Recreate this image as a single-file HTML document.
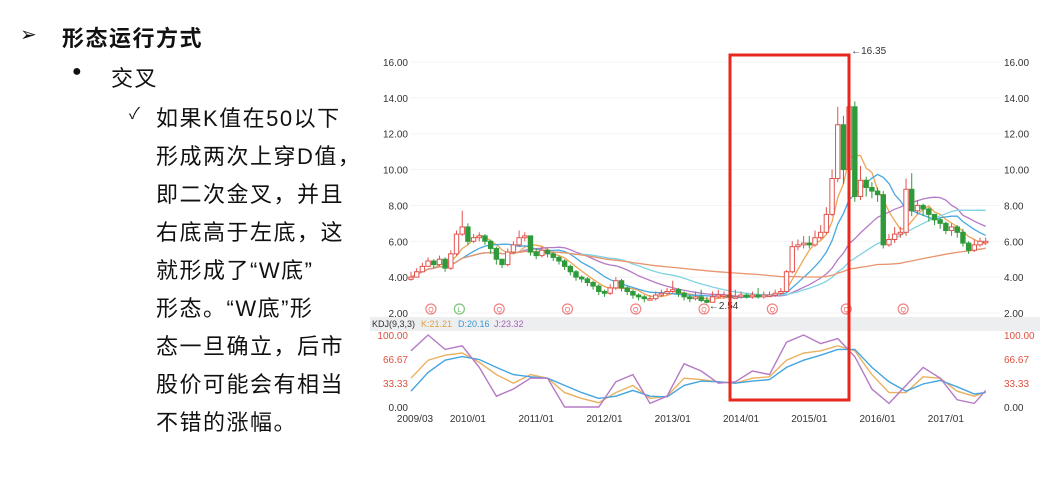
<!DOCTYPE html>
<html><head><meta charset="utf-8">
<style>
body{margin:0;width:1053px;height:486px;background:#fff;overflow:hidden;position:relative;font-family:"Liberation Sans","Noto Sans CJK SC",sans-serif;}
.t{position:absolute;color:#111;font-size:22px;letter-spacing:1.5px;white-space:nowrap;font-family:"Liberation Sans","Noto Sans CJK SC",sans-serif;}
svg{position:absolute;left:0;top:0}
</style></head><body>
<div class="t" style="left:20px;top:22px;font-size:20px">➢</div>
<div class="t" style="left:62px;top:21px;font-weight:bold">形态运行方式</div>
<div class="t" style="left:72px;top:63px;font-size:16px">●</div>
<div class="t" style="left:111px;top:61px">交叉</div>
<div class="t" style="left:129px;top:100px;font-size:16px">✓</div>
<div class="t" style="left:156px;top:100px;line-height:38px">如果K值在50以下<br>形成两次上穿D值，<br>即二次金叉，并且<br>右底高于左底，这<br>就形成了“W底”<br>形态。“W底”形<br>态一旦确立，后市<br>股价可能会有相当<br>不错的涨幅。</div>
<svg id="chart" width="1053" height="486"></svg>
<script>
const closes=[4.0,4.3,4.6,4.9,4.7,5.0,4.5,5.3,6.4,6.8,6.0,6.2,6.3,6.0,5.6,5.0,4.7,5.4,5.8,6.2,6.3,5.4,5.2,5.5,5.3,5.1,4.9,4.6,4.3,4.0,3.9,3.7,3.5,3.2,3.1,3.4,3.8,3.4,3.2,3.0,2.9,2.8,2.8,3.0,3.1,3.2,3.3,3.1,2.9,2.8,2.9,2.7,2.6,2.9,3.0,3.0,2.9,2.9,3.0,2.9,3.0,2.9,3.0,3.0,3.1,3.2,4.3,5.7,5.8,5.9,5.8,6.2,6.5,7.5,9.5,12.5,10.0,13.5,8.5,9.4,9.0,8.8,8.6,5.8,6.1,6.4,6.5,8.9,7.7,8.0,7.8,7.5,7.2,7.0,6.6,6.8,6.5,5.9,5.5,5.8,6.0,6.0];
const highs=[4.3,4.5,4.8,5.1,5.0,5.2,5.1,5.5,6.6,7.7,7.0,6.4,6.5,6.4,6.1,5.7,5.0,5.6,6.0,6.6,6.5,6.3,5.6,5.7,5.6,5.4,5.2,5.0,4.7,4.4,4.1,4.0,3.8,3.6,3.3,3.6,4.0,3.9,3.5,3.3,3.1,3.0,3.0,3.2,3.3,3.4,3.8,3.4,3.2,3.0,3.2,3.3,2.9,3.2,3.3,3.2,3.1,3.3,3.2,3.1,3.2,3.4,3.2,3.2,3.3,3.4,4.4,6.0,6.1,6.3,6.3,6.6,6.9,7.9,10.0,13.5,13.0,16.35,13.8,10.2,9.6,9.3,9.0,8.8,6.4,6.8,6.8,9.5,9.8,8.3,8.1,7.9,7.5,7.3,7.1,7.0,6.9,6.7,6.0,6.1,6.2,6.2];
const lows=[3.8,4.1,4.4,4.6,4.5,4.6,4.3,4.4,5.2,6.3,5.8,5.9,6.0,5.8,5.3,4.7,4.5,4.6,5.3,5.7,6.0,5.2,5.0,5.1,5.1,4.9,4.7,4.4,4.1,3.8,3.7,3.5,3.3,3.0,2.9,3.0,3.3,3.2,3.0,2.8,2.7,2.6,2.7,2.7,2.9,3.0,3.1,2.9,2.7,2.6,2.7,2.6,2.54,2.6,2.8,2.8,2.8,2.8,2.8,2.8,2.8,2.8,2.8,2.9,2.9,3.0,3.2,4.2,5.5,5.6,5.6,5.7,6.1,6.4,7.4,9.3,9.2,9.8,8.2,8.3,8.5,8.4,8.2,5.6,5.7,5.9,6.2,6.3,7.4,7.5,7.4,7.1,6.9,6.7,6.4,6.3,6.2,5.7,5.3,5.4,5.7,5.8];
const kdjMonths=[0,3,6,9,12,15,18,21,24,27,30,33,36,39,42,45,48,51,54,57,60,63,66,69,72,75,78,81,84,87,90,93,96,99,101];
const kVals=[40,65,72,75,62,45,33,45,40,20,12,6,20,30,12,15,40,38,35,33,40,42,65,75,78,85,78,45,20,20,42,40,22,15,21];
const dVals=[22,48,65,70,66,55,45,42,40,30,20,12,15,23,15,14,30,36,35,33,36,38,55,65,72,80,80,55,35,22,32,37,28,18,20];
const jVals=[78,100,80,85,55,15,25,40,40,0,0,0,35,45,5,15,60,50,33,35,50,45,90,100,88,95,70,25,5,30,55,40,10,5,23];
const priceTicks=[2,4,6,8,10,12,14,16];
const kdjTicks=[0,33.33,66.67,100];
const dateLabels=["2009/03","2010/01","2011/01","2012/01","2013/01","2014/01","2015/01","2016/01","2017/01"];
const dateMonths=[0,10,22,34,46,58,70,82,94];
const maWindows=[5,10,20,30,60];
const maColors=["#f0a455","#4aa8e0","#b57ac6","#7fd3e3","#e8956e"];
const qMonths=[3.5,8.5,15.5,27.5,39.5,51.5,63.5,76.5,86.5];
const qLetters=["Q","L","Q","Q","Q","Q","Q","Q","Q"];

const svg=document.getElementById('chart');const NS='http://www.w3.org/2000/svg';
const X=t=>411+5.69*t;const PY=p=>313-(p-2)*17.93;const KY=v=>407-0.72*v;
function mk(tag,attrs,parent){const e=document.createElementNS(NS,tag);for(const k in attrs)e.setAttribute(k,attrs[k]);(parent||svg).appendChild(e);return e;}
// grid
priceTicks.forEach(p=>{
 const g=mk('line',{x1:410,x2:1000,y1:PY(p),y2:PY(p),stroke:'#f3f3f3'});
 
 
 [[408,'end'],[1004,'start']].forEach(([x,a])=>{const t=mk('text',{x:x,y:PY(p)+4,'font-size':10,fill:'#333','text-anchor':a,'font-family':'Liberation Sans'});t.textContent=p.toFixed(2);
 
 });
});
// KDJ band
const band=mk('rect',{x:370,y:317,width:670,height:14,fill:'#eceef0'});


[["KDJ(9,3,3)",372,'#333'],["K:21.21",421,'#e0a040'],["D:20.16",458,'#3a9ad8'],["J:23.32",494,'#a860b8']].forEach(([s,x,c])=>{const t=mk('text',{x:x,y:327,'font-size':9,fill:c,'font-family':'Liberation Sans'});t.textContent=s;
 
 });
kdjTicks.forEach(v=>{[[408,'end'],[1004,'start']].forEach(([x,a])=>{const t=mk('text',{x:x,y:KY(v)+4,'font-size':10,fill:v==0?'#333':'#e05040','text-anchor':a,'font-family':'Liberation Sans'});t.textContent=v.toFixed(2);
 
 });});
dateLabels.forEach((s,i)=>{const t=mk('text',{x:X(dateMonths[i])+(i==0?4:0),y:422,'font-size':10,fill:'#333','text-anchor':'middle','font-family':'Liberation Sans'});t.textContent=s;
 
 });
// MAs
maWindows.forEach((w,wi)=>{let pts=[];for(let i=0;i<closes.length;i++){const s=closes.slice(Math.max(0,i-w+1),i+1);const m=s.reduce((a,b)=>a+b,0)/s.length;pts.push(X(i).toFixed(1)+','+PY(m).toFixed(1));}
 const l=mk('polyline',{points:pts.join(' '),fill:'none',stroke:maColors[wi],'stroke-width':1.3});
 
 });
// candles
closes.forEach((c,i)=>{const o=i?closes[i-1]:c*0.97;const up=c>=o;const col=up?'#e2534d':'#2f9a3a';
 const g=mk('g',{});
 
 
 mk('line',{x1:X(i),x2:X(i),y1:PY(highs[i]),y2:PY(lows[i]),stroke:col,'stroke-width':1},g);
 const top=PY(Math.max(o,c)),h=Math.max(1.5,Math.abs(PY(o)-PY(c)));
 mk('rect',{x:X(i)-2.2,y:top,width:4.4,height:h,fill:up?'#fff':col,stroke:col,'stroke-width':1},g);});
// annotations
const a1=mk('text',{x:X(77)+2,y:54,'font-size':10,fill:'#333','font-family':'Liberation Sans'});a1.textContent='←16.35';


const a2=mk('text',{x:X(52)+2,y:309,'font-size':10,fill:'#333','font-family':'Liberation Sans'});a2.textContent='←2.54';


qMonths.forEach((m,i)=>{const c=qLetters[i]=='L'?'#5cb85c':'#e66';const g=mk('g',{});
 
 
 mk('circle',{cx:X(m),cy:309,r:5,fill:'#fff',stroke:c,'stroke-width':1.2,opacity:0.8},g);
 const t=mk('text',{x:X(m),y:312,'font-size':7,fill:c,'text-anchor':'middle','font-family':'Liberation Sans'},g);t.textContent=qLetters[i];});
// KDJ lines
[[kVals,'#eab060','k-line'],[dVals,'#45a5e0','d-line'],[jVals,'#b57ac6','j-line']].forEach(([arr,col,nm])=>{
 const pts=kdjMonths.map((m,i)=>X(m).toFixed(1)+','+KY(arr[i]).toFixed(1)).join(' ');
 const l=mk('polyline',{points:pts,fill:'none',stroke:col,'stroke-width':1.4});
 
 });
// red highlight box
const box=mk('rect',{x:730,y:55,width:119,height:345,fill:'none',stroke:'#e8281e','stroke-width':3});


</script>
</body></html>
